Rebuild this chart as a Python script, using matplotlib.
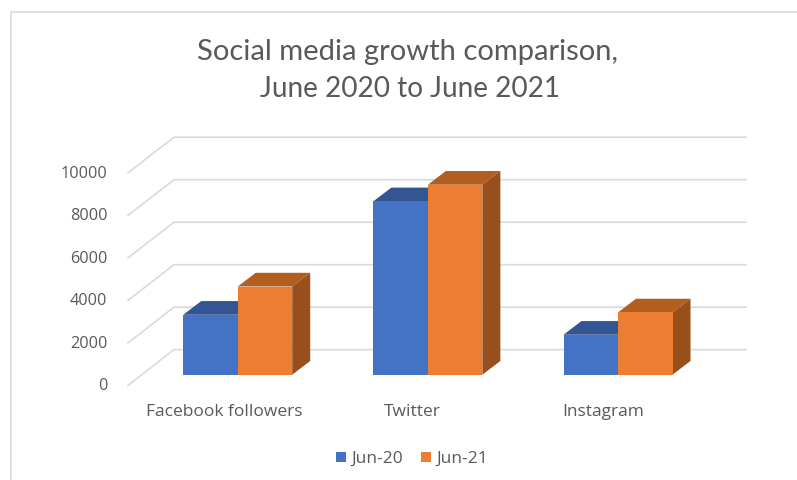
import matplotlib
matplotlib.use("Agg")
import matplotlib.pyplot as plt
from matplotlib.patches import Polygon, Rectangle

categories = ["Facebook followers", "Twitter", "Instagram"]
series_names = ["Jun-20", "Jun-21"]
jun20 = [2820, 8160, 1880]
jun21 = [4150, 8940, 2930]
y_ticks = [0, 2000, 4000, 6000, 8000, 10000]

W, H = 797, 481
plt.rcParams["font.family"] = ["Lato", "DejaVu Sans"]
SMALL = ["Open Sans", "DejaVu Sans"]
TEXT = "#595959"
C_FRONT = ["#4472C4", "#ED7D31"]
C_TOP = ["#335593", "#B35E1F"]
C_SIDE = ["#2A4A85", "#974F1B"]
GRID = "#DADADA"

fig = plt.figure(figsize=(W / 100, H / 100), dpi=100)
ax = fig.add_axes([0, 0, 1, 1])

# data scale: 190.15 px per category (category 0 centred at x=237.7 px),
# 42.5 px per 2000 units (value 0 at y=375.7 px on the saved image)
px_x = 190.15
px_y = 42.5 / 2000
x0_px, y0_px = 237.7, 375.7
ax.set_xlim(-x0_px / px_x, (W - x0_px) / px_x)
ax.set_ylim((y0_px - H) / px_y, y0_px / px_y)
ax.axis("off")

def X(px):
    return px / px_x
def Y(px):
    return px / px_y

# frame
ax.plot([(10.5 - x0_px) / px_x, (10.5 - x0_px) / px_x, (797 - x0_px) / px_x],
        [(y0_px - 481) / px_y, (y0_px - 12.5) / px_y, (y0_px - 12.5) / px_y],
        color="#DDDDDD", lw=1.3, zorder=1, solid_capstyle="butt")

# gridlines on floor edge and back wall
wall_dx, wall_dy = X(46), Y(25)
front_x = (128 - x0_px) / px_x
end_x = (746 - x0_px) / px_x
front_dy = Y(-10.7)
for v in y_ticks:
    yb = v + wall_dy
    ax.plot([front_x, front_x + wall_dx, end_x],
            [v + front_dy, yb, yb], color=GRID, lw=1.2, zorder=2)
    ax.text((107.5 - x0_px) / px_x, v + front_dy, str(v), ha="right", va="center",
            fontsize=11.7, color=TEXT, zorder=5, family=SMALL)

# 3-D bars
bw = 54.5 / px_x
ddx, ddy = X(18), Y(13.7)
for s, vals in enumerate([jun20, jun21]):
    for i, v in enumerate(vals):
        x = i + (s - 1) * bw
        ax.add_patch(Polygon([(x, v), (x + bw, v), (x + bw + ddx, v + ddy), (x + ddx, v + ddy)],
                             fc=C_TOP[s], ec="none", zorder=3 + s))
        ax.add_patch(Polygon([(x + bw, 0), (x + bw + ddx, ddy), (x + bw + ddx, v + ddy), (x + bw, v)],
                             fc=C_SIDE[s], ec="none", zorder=3 + s))
        ax.bar(x, v, width=bw, align="edge", color=C_FRONT[s], zorder=3 + s)

# category labels
label_px = [224, 412.5, 603.5]
for name, lx in zip(categories, label_px):
    ax.text((lx - x0_px) / px_x, Y(y0_px - 412), name, ha="center", va="center",
            fontsize=12.5, color=TEXT, zorder=5, family=SMALL)

# title
ax.text((407 - x0_px) / px_x, Y(y0_px - 52), "Social media growth comparison,", ha="center", va="center",
        fontsize=21, color=TEXT)
ax.text((410.5 - x0_px) / px_x, Y(y0_px - 89), "June 2020 to June 2021", ha="center", va="center",
        fontsize=20.2, color=TEXT)

# legend
for s, (name, lx) in enumerate(zip(series_names, [336, 421])):
    ax.add_patch(Rectangle(((lx - x0_px) / px_x, Y(y0_px - 462.5)), X(10), Y(10),
                           fc=C_FRONT[s], ec="none", zorder=5))
    ax.text((lx + 15.5 - x0_px) / px_x, Y(y0_px - 459), name, ha="left", va="center",
            fontsize=12.5, color=TEXT, zorder=5, family=SMALL)

fig.savefig("out.png", dpi=100, facecolor="white")
